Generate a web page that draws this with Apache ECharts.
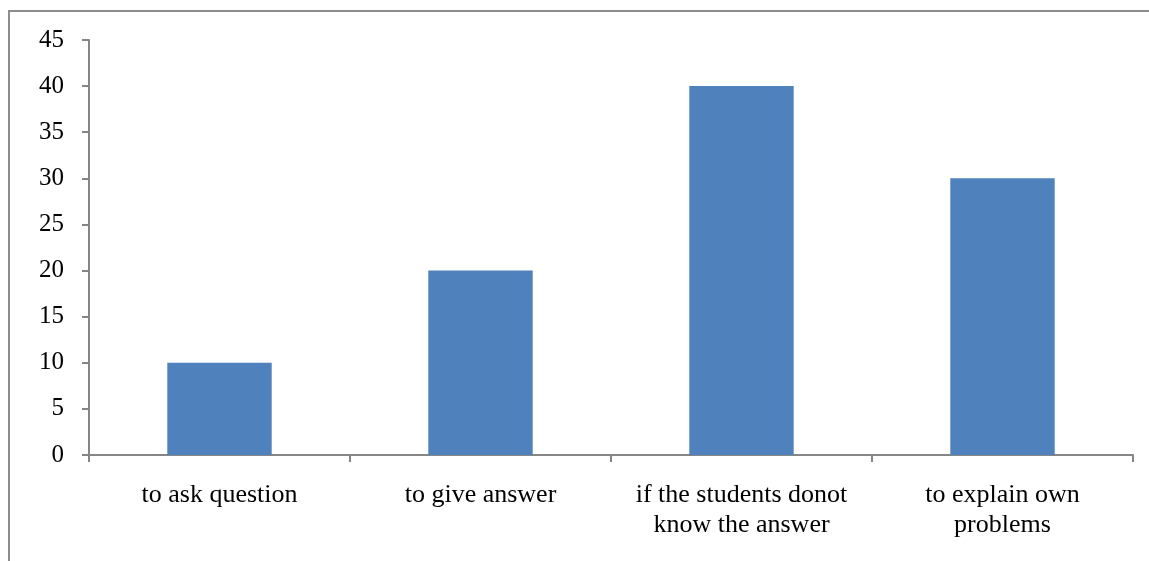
<!DOCTYPE html>
<html lang="en">
<head>
    <meta charset="UTF-8">
    <title>Chart</title>
    <script type="text/javascript" src="https://cdn.jsdelivr.net/npm/echarts@6/dist/echarts.min.js"></script>
    <style>
        html, body { margin: 0; padding: 0; background: #fff; }
        #main { width: 1149px; height: 561px; }
    </style>
</head>
<body>
<div id="main"></div>
<script type="text/javascript">
    var categories = ['to ask question', 'to give answer', 'if the students donot\nknow the answer', 'to explain own\nproblems'];
    var values = [10, 20, 40, 30];

    var myChart = echarts.init(document.getElementById('main'));
    var font = 'Liberation Serif';

    var option = {
        animation: false,
        backgroundColor: '#fff',
        graphic: [{
            type: 'rect',
            shape: { x: 9, y: 11, width: 1300, height: 700 },
            style: { fill: 'none', stroke: '#8c8c8c', lineWidth: 2 },
            silent: true
        }],
        grid: { left: 89, top: 40, right: 16, bottom: 106 },
        xAxis: {
            type: 'category',
            data: categories,
            axisLine: { lineStyle: { color: '#868686', width: 2 } },
            axisTick: { show: true, length: 7, lineStyle: { color: '#868686', width: 2 } },
            axisLabel: {
                color: '#000', fontFamily: font, fontSize: 26, lineHeight: 30, margin: 25, interval: 0
            }
        },
        yAxis: {
            type: 'value',
            min: 0,
            max: 45,
            interval: 5,
            splitLine: { show: false },
            axisLine: { show: true, lineStyle: { color: '#868686', width: 2 } },
            axisTick: { show: true, length: 7, lineStyle: { color: '#868686', width: 2 } },
            axisLabel: { color: '#000', fontFamily: font, fontSize: 25, margin: 25 }
        },
        series: [{
            type: 'bar',
            data: values,
            barWidth: '40%',
            itemStyle: { color: '#4F81BD' }
        }]
    };
    myChart.setOption(option);
</script>
</body>
</html>
